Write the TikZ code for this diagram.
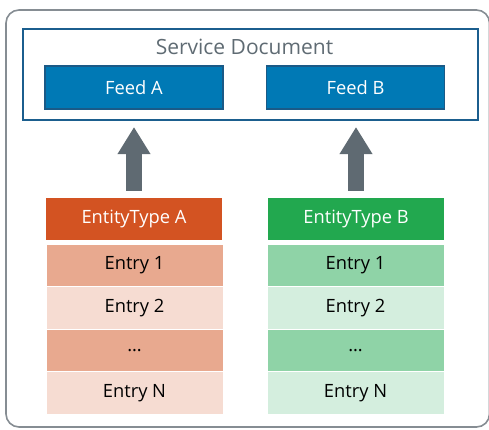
\documentclass[tikz,border=0pt]{standalone}
\usepackage{fontspec}
\setmainfont{Open Sans}
\usetikzlibrary{arrows.meta}
\definecolor{frame}{HTML}{868D93}
\definecolor{sdblue}{HTML}{1B5E8E}
\definecolor{feedfill}{HTML}{0079B5}
\definecolor{feedline}{HTML}{1A5A87}
\definecolor{sdtext}{HTML}{5F6B73}
\definecolor{arrowgray}{HTML}{5F6A72}
\definecolor{orangehead}{HTML}{D35322}
\definecolor{orangedark}{HTML}{E8A98F}
\definecolor{orangelight}{HTML}{F6DCD2}
\definecolor{greenhead}{HTML}{22A84F}
\definecolor{greendark}{HTML}{8FD3A7}
\definecolor{greenlight}{HTML}{D4EEDE}
\tikzset{
  feedbox/.style={draw=feedline, line width=1.2pt, fill=feedfill, text=white, minimum width=178pt, minimum height=43pt, inner sep=0pt, font=\fontsize{18.3}{20}\selectfont},
  headbox/.style={minimum width=176pt, minimum height=42pt, inner sep=0pt, text=white, font=\fontsize{18.3}{20}\selectfont},
  cell/.style={draw=white, line width=0.8pt, minimum width=177pt, minimum height=42.5pt, inner sep=0pt, text=black, font=\fontsize{18.3}{20}\selectfont},
  bigarrow/.style={draw=arrowgray, line width=16pt, -{Triangle[width=31pt,length=27pt]}},
}
\begin{document}
\begin{tikzpicture}[x=1pt,y=-1pt]
\useasboundingbox (0,0) rectangle (489,429);
\draw[frame, line width=1.6pt, rounded corners=13pt] (6,10) rectangle (489.5,427);
\node[draw=sdblue, line width=2pt, minimum width=455pt, minimum height=91pt, inner sep=0pt] (sd) at (250.5,74.5) {};
\node[text=sdtext, font=\fontsize{21}{24}\selectfont] (sdt) at (244.5,47) {Service Document};
\node[feedbox] (fa) at (134,87.5) {Feed A};
\node[feedbox] (fb) at (355.5,87.5) {Feed B};
\node[headbox, fill=orangehead] (ea) at (134,219) {EntityType A};
\node[cell, fill=orangedark] (a1) at (134.5,265.25) {Entry 1};
\node[cell, fill=orangelight] (a2) at (134.5,307.75) {Entry 2};
\node[cell, fill=orangedark] (a3) at (134.5,350.25) {\dots};
\node[cell, fill=orangelight] (a4) at (134.5,392.75) {Entry N};
\node[headbox, fill=greenhead] (eb) at (356,219) {EntityType B};
\node[cell, fill=greendark] (b1) at (355.5,265.25) {Entry 1};
\node[cell, fill=greenlight] (b2) at (355.5,307.75) {Entry 2};
\node[cell, fill=greendark] (b3) at (355.5,350.25) {\dots};
\node[cell, fill=greenlight] (b4) at (355.5,392.75) {Entry N};
\draw[bigarrow, shorten <=7pt, shorten >=6pt] (ea.north) -- (ea.north |- sd.south);
\draw[bigarrow, shorten <=7pt, shorten >=6pt] (eb.north) -- (eb.north |- sd.south);
\end{tikzpicture}
\end{document}
